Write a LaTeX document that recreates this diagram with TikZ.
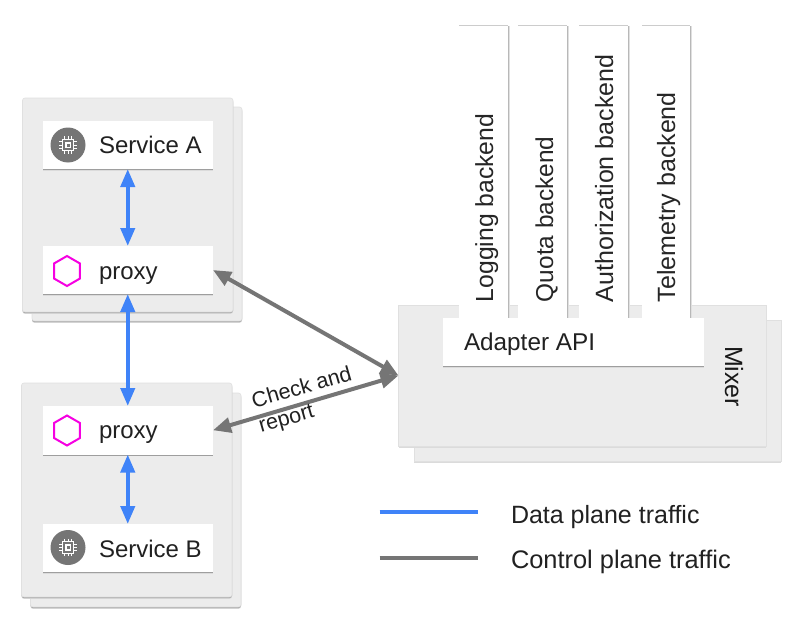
\documentclass[tikz,border=0pt]{standalone}
\usepackage{fontspec}
\setmainfont{Liberation Sans}
\usetikzlibrary{arrows.meta,shapes.geometric}
\definecolor{panel}{HTML}{ECECEC}
\definecolor{flowblue}{HTML}{3F83F8}
\definecolor{flowgray}{HTML}{757575}
\definecolor{inkdark}{HTML}{212121}
\definecolor{hexpink}{HTML}{F600E2}
\newcommand{\fs}[1]{\fontsize{#1}{#1}\selectfont}
\tikzset{
  x=1pt,y=-1pt,
  cardshadow/.style={preaction={fill=black!14,draw=none,transform canvas={yshift=-1.9pt}},preaction={fill=black!38,draw=none,transform canvas={yshift=-1pt}}},
  panelbox/.style={fill=panel,draw=black!12,line width=0.6pt,rounded corners=2.5pt,cardshadow},
  whitebox/.style={draw=none,fill=white,cardshadow},
  backendbox/.style={draw=none,fill=white,preaction={fill=black!12,draw=none,transform canvas={xshift=2pt}},preaction={fill=black!28,draw=none,transform canvas={xshift=1pt}},preaction={fill=black!20,draw=none,transform canvas={yshift=1pt}}},
  boxnode/.style={rectangle,inner sep=0pt,outer sep=0pt,anchor=north west},
  label/.style={inner sep=0pt,outer sep=0pt,anchor=base west,text=inkdark,font=\fs{24}},
  vlabel/.style={inner sep=0pt,outer sep=0pt,anchor=base west,text=black!85,font=\fs{25},rotate=90},
  bluearrow/.style={draw=flowblue,line width=4pt,{Triangle[length=18pt,width=14pt]}-{Triangle[length=18pt,width=14pt]}},
  grayarrow/.style={draw=flowgray,line width=4pt,{Triangle[length=18pt,width=15pt]}-{Triangle[length=18pt,width=15pt]}},
  legendblue/.style={draw=flowblue,line width=4pt},
  legendgray/.style={draw=flowgray,line width=4pt},
  hexicon/.style={regular polygon,regular polygon sides=6,shape border rotate=30,minimum size=30pt,draw=hexpink,line width=2pt,inner sep=0pt,fill=none},
  chipdisc/.style={circle,fill=flowgray,minimum size=35pt,inner sep=0pt},
  chip/.pic={
    \draw[white,line width=1.1pt] (-5.8,-5.8) rectangle (5.8,5.8);
    \fill[white] (-3.2,-3.2) rectangle (3.2,3.2);
    \fill[flowgray] (-1.5,-1.5) rectangle (1.5,1.5);
    \foreach \q in {-3.4,0,3.4}{
      \draw[white,line width=1pt] (\q,-8.6) -- (\q,-5.8) (\q,5.8) -- (\q,8.6) (-8.6,\q) -- (-5.8,\q) (5.8,\q) -- (8.6,\q);
    }
  }
}
\newcommand{\boxat}[6]{\node[boxnode,#1,minimum width=#4pt-#2pt,minimum height=#5pt-#3pt] (#6) at (#2,#3) {};}
\begin{document}
\begin{tikzpicture}
\useasboundingbox (0,0) rectangle (787,642);
\fill[white] (0,0) rectangle (787,642);
% group A
\boxat{panelbox}{32}{107}{242}{321}{groupAback}
\boxat{panelbox}{22.5}{98}{233}{312}{groupA}
\boxat{whitebox}{42.5}{121}{213}{169}{svcA}
\boxat{whitebox}{42.5}{246}{213}{294}{proxyA}
% group B
\boxat{panelbox}{30.5}{393}{241}{607}{groupBback}
\boxat{panelbox}{21.5}{383}{232}{597}{groupB}
\boxat{whitebox}{42.5}{406}{213}{454.5}{proxyB}
\boxat{whitebox}{42.5}{524}{213}{572}{svcB}
% mixer
\boxat{panelbox,rounded corners=0pt}{414}{320}{781}{461}{mixerback}
\boxat{panelbox,rounded corners=0pt}{398.5}{305}{766}{446}{mixer}
\boxat{backendbox}{459}{26}{508}{330}{bkLog}
\boxat{backendbox}{518}{26}{567}{330}{bkQuota}
\boxat{backendbox}{579}{26}{628}{330}{bkAuth}
\boxat{backendbox}{642}{26}{690}{330}{bkTel}
\boxat{whitebox}{443}{318}{704}{366}{adapter}
% icons
\node[chipdisc] (iconA) at (68,145) {};
\pic at (iconA.center) {chip};
\node[chipdisc] (iconB) at (68,547.5) {};
\pic at (iconB.center) {chip};
\node[hexicon] (hexA) at (67,271) {};
\node[hexicon] (hexB) at (67,430.5) {};
% labels
\node[label] (tSvcA) at (99,153.5) {Service A};
\node[label] (tProxyA) at (99,279.3) {proxy};
\node[label] (tProxyB) at (99,438.8) {proxy};
\node[label] (tSvcB) at (99,557.3) {Service B};
\node[label,font=\fs{24.3}] (tAdapter) at (464,350.7) {Adapter API};
\node[label,font=\fs{25}] (tData) at (511,523.3) {Data plane traffic};
\node[label,font=\fs{25.4}] (tCtl) at (511,568.3) {Control plane traffic};
\node[vlabel,font=\fs{24.7}] (tLog) at (493,302) {Logging backend};
\node[vlabel,font=\fs{24.4}] (tQuota) at (553,302) {Quota backend};
\node[vlabel] (tAuth) at (613,302) {Authorization backend};
\node[vlabel] (tTel) at (675,302) {Telemetry backend};
\node[inner sep=0pt,outer sep=0pt,anchor=base west,rotate=-90,text=black!90,font=\fs{25}] (tMixer) at (725,346) {Mixer};
% connectors
\draw[bluearrow] (svcA.south) -- (proxyA.north);
\draw[bluearrow] (proxyA.south) -- (proxyB.north);
\draw[bluearrow] (proxyB.south) -- (svcB.north);
\draw[grayarrow] (proxyA.east) -- (mixer.west);
\draw[grayarrow] (proxyB.east) -- (mixer.west);
\coordinate (legBl) at (379.5,512);
\coordinate (legBr) at (477.7,512);
\coordinate (legGl) at (379.5,557.5);
\coordinate (legGr) at (477.7,557.5);
\draw[legendblue] (legBl) -- (legBr);
\draw[legendgray] (legGl) -- (legGr);
\node[inner sep=0pt,outer sep=0pt,align=left,rotate=16,text=inkdark,font=\fs{21.5}] (tCheck) at (305.5,401) {Check and\\[4pt]report};
\end{tikzpicture}
\end{document}
